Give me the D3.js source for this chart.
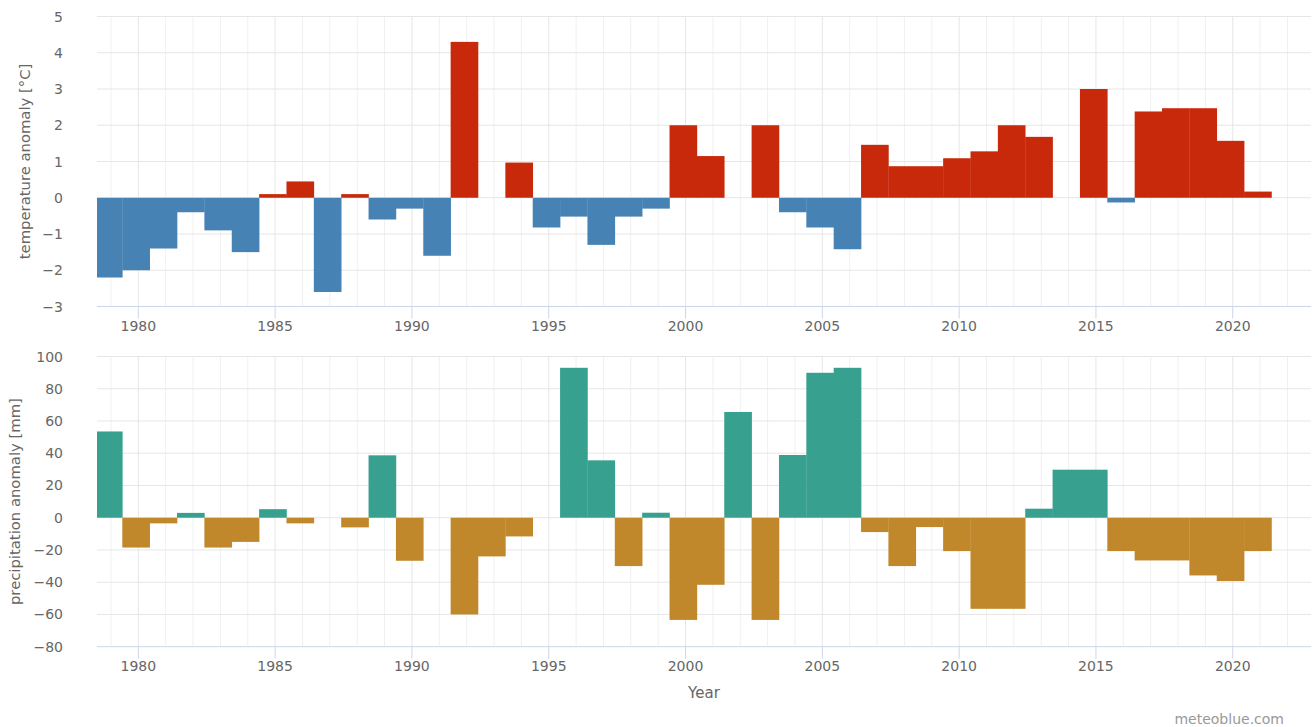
<!DOCTYPE html>
<html>
<head>
<meta charset="utf-8">
<script src="https://cdn.jsdelivr.net/npm/d3@7"></script>
<style>
  html, body { margin: 0; padding: 0; background: #fff; }
  svg { display: block; font-family: "DejaVu Sans", Verdana, sans-serif; }
</style>
</head>
<body>
<svg id="chart" width="1315" height="727"></svg>
<script>
const years = d3.range(1979, 2022);
const tempAnomaly = [
  -2.2, -2.0, -1.4, -0.4, -0.9, -1.5, 0.1, 0.45, -2.6, 0.1,
  -0.6, -0.3, -1.6, 4.3, null, 0.97, -0.82, -0.52, -1.3, -0.52,
  -0.3, 2.0, 1.15, null, 2.0, -0.4, -0.82, -1.42, 1.46, 0.87,
  0.87, 1.09, 1.28, 2.0, 1.68, null, 3.0, -0.13, 2.38, 2.47,
  2.47, 1.57, 0.17
];
const precipAnomaly = [
  53.5, -18.5, -3.5, 3, -18.5, -15, 5.3, -3.5, null, -6,
  38.7, -26.7, null, -60, -24, -11.6, null, 93, 35.6, -30,
  3.1, -63.4, -41.6, 65.6, -63.4, 38.9, 89.9, 93, -8.9, -30,
  -5.8, -20.7, -56.5, -56.5, 5.6, 29.8, 29.8, -20.7, -26.5, -26.5,
  -35.8, -39.3, -20.7
];
const yearTicks = [1980, 1985, 1990, 1995, 2000, 2005, 2010, 2015, 2020];
const tempTicks = [5, 4, 3, 2, 1, 0, -1, -2, -3];
const precipTicks = [100, 80, 60, 40, 20, 0, -20, -40, -60, -80];

const svg = d3.select("#chart");
const left = 97, right = 1311;
const x = d3.scaleLinear().domain([1978.49, 2022.86]).range([left, right]);
const barStart = -0.585, barEnd = 0.415;

const panels = [
  { values: tempAnomaly, domain: [-3, 5], range: [306.5, 16.5], ticks: tempTicks,
    pos: "#c8290b", neg: "#4682b4", title: "temperature anomaly [°C]", id: "t" },
  { values: precipAnomaly, domain: [-80, 100], range: [646.7, 356.5], ticks: precipTicks,
    pos: "#38a08f", neg: "#c0882b", title: "precipitation anomaly [mm]", id: "p" }
];

panels.forEach(p => {
  const y = d3.scaleLinear().domain(p.domain).range(p.range);
  const top = p.range[1], bottom = p.range[0];
  const g = svg.append("g");

  svg.append("clipPath").attr("id", "clip-" + p.id)
    .append("rect").attr("x", left).attr("y", top - 1).attr("width", right - left).attr("height", bottom - top + 2);

  // vertical minor grid (every year)
  g.append("g").selectAll("line").data(d3.range(1979, 2023).filter(d => d % 5 !== 0))
    .join("line")
    .attr("x1", d => x(d)).attr("x2", d => x(d))
    .attr("y1", top).attr("y2", bottom)
    .attr("stroke", "#f0f0f0").attr("stroke-width", 1);
  // vertical major grid
  g.append("g").selectAll("line").data(yearTicks)
    .join("line")
    .attr("x1", d => x(d)).attr("x2", d => x(d))
    .attr("y1", top).attr("y2", bottom)
    .attr("stroke", "#e6e6e6").attr("stroke-width", 1);
  // horizontal grid
  g.append("g").selectAll("line").data(p.ticks.slice(0, -1))
    .join("line")
    .attr("x1", left).attr("x2", right)
    .attr("y1", d => y(d)).attr("y2", d => y(d))
    .attr("stroke", "#e6e6e6").attr("stroke-width", 1);

  // bars
  const data = years.map((yr, i) => ({ yr, v: p.values[i] })).filter(d => d.v !== null);
  g.append("g").attr("clip-path", "url(#clip-" + p.id + ")")
    .selectAll("rect").data(data).join("rect")
    .attr("x", d => x(d.yr + barStart))
    .attr("width", d => x(d.yr + barEnd) - x(d.yr + barStart) + 0.3)
    .attr("y", d => Math.min(y(0), y(d.v)))
    .attr("height", d => Math.abs(y(d.v) - y(0)))
    .attr("fill", d => d.v >= 0 ? p.pos : p.neg);

  // x axis line + ticks
  g.append("line").attr("x1", left).attr("x2", right).attr("y1", bottom).attr("y2", bottom)
    .attr("stroke", "#ccd6eb").attr("stroke-width", 1);
  g.append("g").selectAll("line").data(yearTicks).join("line")
    .attr("x1", d => x(d)).attr("x2", d => x(d))
    .attr("y1", bottom).attr("y2", bottom + 12)
    .attr("stroke", "#ccd6eb").attr("stroke-width", 1);
  g.append("g").selectAll("text").data(yearTicks).join("text")
    .attr("x", d => x(d)).attr("y", bottom + 24)
    .attr("text-anchor", "middle")
    .attr("fill", "#666").attr("font-size", "14px")
    .text(d => d);

  // y labels
  g.append("g").selectAll("text").data(p.ticks).join("text")
    .attr("x", 63).attr("y", d => y(d) + 5)
    .attr("text-anchor", "end")
    .attr("fill", "#666").attr("font-size", "14px")
    .text(d => d < 0 ? "\u2212" + Math.abs(d) : d);

  // title
  g.append("text")
    .attr("transform", `translate(${p.id === "t" ? 30 : 20},${(top + bottom) / 2}) rotate(-90)`)
    .attr("text-anchor", "middle")
    .attr("fill", "#666").attr("font-size", "14.8px")
    .text(p.title);
});

svg.append("text").attr("x", 704).attr("y", 698).attr("text-anchor", "middle")
  .attr("fill", "#666").attr("font-size", "15px").text("Year");
svg.append("text").attr("x", 1284).attr("y", 724).attr("text-anchor", "end")
  .attr("fill", "#999").attr("font-size", "14px").text("meteoblue.com");
</script>
</body>
</html>
